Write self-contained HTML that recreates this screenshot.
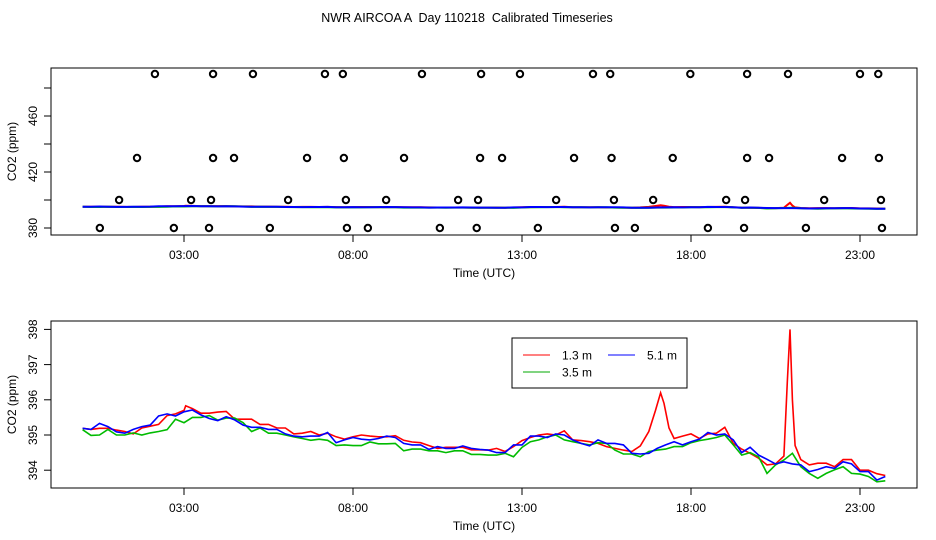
<!DOCTYPE html>
<html><head><meta charset="utf-8"><style>
body{margin:0;background:#fff}
svg{display:block;font-family:"Liberation Sans",sans-serif}
text{white-space:pre}
</style></head><body>
<svg id="chart" width="936" height="540">
</svg>
<script>
// ---- data ----
const xTickHours=[3,8,13,18,23];
const xTickLabels=["03:00","08:00","13:00","18:00","23:00"];
const topYTicks=[380,400,420,440,460,480];
const topYLabels=[380,420,460];
const botYTicks=[394,395,396,397,398];
const calLevels=[380,400,430,490];
const cal380=[0.51,2.70,3.74,5.54,7.82,8.44,10.57,11.66,13.47,15.75,16.34,18.50,19.57,21.40,23.65];
const cal400=[1.08,3.21,3.80,6.08,7.79,8.98,11.11,11.70,14.01,15.72,16.88,19.04,19.60,21.94,23.62];
const cal430=[1.61,3.86,4.48,6.64,7.73,9.51,11.76,12.41,14.54,15.65,17.46,19.66,20.31,22.47,23.56];
const cal490=[2.14,3.86,5.04,7.17,7.70,10.04,11.79,12.94,15.10,15.61,17.98,19.66,20.87,23.00,23.54];
const blueVals=[395.19,395.16,395.33,395.24,395.09,395.05,395.16,395.24,395.28,395.54,395.6,395.54,395.66,395.71,395.57,395.47,395.41,395.52,395.43,395.28,395.22,395.22,395.16,395.16,395.03,394.97,394.95,394.97,394.97,395.07,394.78,394.86,394.93,394.88,394.86,394.9,394.97,394.93,394.76,394.72,394.72,394.59,394.67,394.62,394.62,394.69,394.62,394.59,394.57,394.5,394.5,394.72,394.72,394.97,394.97,394.93,395.03,395.0,394.86,394.76,394.69,394.86,394.76,394.76,394.72,394.48,394.46,394.48,394.62,394.72,394.81,394.72,394.81,394.88,395.07,395.0,395.03,394.86,394.5,394.65,394.43,394.31,394.18,394.24,394.18,394.15,393.96,394.02,394.1,394.05,394.24,394.18,393.96,393.96,393.72,393.82];
const greenVals=[395.15,394.99,395.0,395.16,395.0,395.0,395.06,395.0,395.06,395.1,395.15,395.45,395.35,395.5,395.5,395.55,395.42,395.48,395.48,395.35,395.1,395.2,395.05,395.05,395.0,394.95,394.9,394.85,394.88,394.85,394.7,394.72,394.7,394.7,394.8,394.75,394.75,394.76,394.55,394.6,394.6,394.55,394.55,394.5,394.55,394.55,394.45,394.45,394.43,394.43,394.48,394.38,394.65,394.81,394.86,394.95,395.0,394.86,394.81,394.76,394.72,394.78,394.76,394.57,394.46,394.46,394.38,394.53,394.57,394.6,394.67,394.67,394.78,394.84,394.88,394.93,395.0,394.72,394.43,394.5,394.38,393.91,394.15,394.29,394.48,394.1,393.91,393.77,393.91,394.01,394.1,393.91,393.89,393.82,393.67,393.7];
const redTimes=[0,0.25,0.5,0.75,1,1.25,1.5,1.75,2,2.25,2.5,2.75,3,3.05,3.25,3.5,3.75,4,4.25,4.5,4.75,5,5.25,5.5,5.75,6,6.25,6.5,6.75,7,7.25,7.5,7.75,8,8.25,8.5,8.75,9,9.25,9.5,9.75,10,10.25,10.5,10.75,11,11.25,11.5,11.75,12,12.25,12.5,12.75,13,13.25,13.5,13.75,14,14.25,14.5,14.75,15,15.25,15.5,15.75,16,16.25,16.5,16.75,16.95,17.1,17.2,17.35,17.5,17.75,18,18.25,18.5,18.75,19,19.25,19.5,19.75,20,20.25,20.5,20.75,20.85,20.93,21,21.08,21.25,21.5,21.75,22,22.25,22.5,22.75,23,23.25,23.5,23.75];
const redVals=[395.19,395.16,395.19,395.19,395.14,395.1,395.03,395.2,395.25,395.3,395.55,395.6,395.7,395.83,395.75,395.62,395.62,395.65,395.67,395.45,395.45,395.45,395.3,395.3,395.2,395.2,395.03,395.05,395.1,395.0,395.05,394.95,394.88,394.95,395.0,394.97,394.95,394.95,394.98,394.85,394.8,394.78,394.7,394.62,394.65,394.65,394.65,394.58,394.58,394.57,394.62,394.53,394.67,394.84,394.93,395.0,395.03,395.0,395.12,394.86,394.84,394.81,394.76,394.67,394.62,394.57,394.53,394.69,395.1,395.7,396.2,395.9,395.2,394.9,394.97,395.03,394.9,395.03,395.05,395.22,394.76,394.6,394.48,394.34,394.15,394.18,394.4,396.5,398.0,396.0,394.7,394.3,394.15,394.2,394.2,394.1,394.3,394.3,394.0,394.0,393.9,393.85];

// ---- scales ----
const X=h=>82.6+33.8*h;
const yTop=v=>228-(v-380)*1.4;
const yBot=v=>435-(v-395)*35.2;
const NS="http://www.w3.org/2000/svg";
const svg=document.getElementById('chart');
function mk(tag,attrs,parent){const e=document.createElementNS(NS,tag);for(const k in attrs)e.setAttribute(k,attrs[k]);(parent||svg).appendChild(e);return e;}
function txt(s,x,y,size,rot,anchor){const t=mk('text',{x:x,y:y,'font-size':size,'text-anchor':anchor||'middle',fill:'#000'});if(rot)t.setAttribute('transform',`rotate(-90 ${x} ${y})`);t.textContent=s;return t;}

const title=txt("NWR AIRCOA A  Day 110218  Calibrated Timeseries",467,22,12.5);



function panel(top,bottom,name,yfn,yTicks,yLabels){
  const g=mk('g',{});
  
  
  const box=mk('rect',{x:51,y:top,width:866,height:bottom-top,fill:'none',stroke:'#000','stroke-width':1},g);
  
  
  xTickHours.forEach((h,i)=>{
    const l=mk('line',{x1:X(h),x2:X(h),y1:bottom,y2:bottom+7,stroke:'#000'},g);
    
    
    const t=txt(xTickLabels[i],X(h),bottom+24,12,false);
    g.appendChild(t);
    
    
  });
  yTicks.forEach(v=>{
    const l=mk('line',{x1:44,x2:51,y1:yfn(v),y2:yfn(v),stroke:'#000'},g);
    
    
  });
  yLabels.forEach(v=>{
    const t=txt(String(v),37,yfn(v),12,true);
    g.appendChild(t);
    
    
  });
  const xl=txt("Time (UTC)",484,bottom+42,12);
  g.appendChild(xl);
  
  
  const yl=txt("CO2 (ppm)",16,(top+bottom)/2,12,true);
  g.appendChild(yl);
  
  
  return g;
}
function series(g,times,vals,yfn,color,name,width){
  const d=vals.map((v,i)=>(i?'L':'M')+X(times[i]).toFixed(1)+','+yfn(v).toFixed(1)).join('');
  const p=mk('path',{d:d,fill:'none',stroke:color,'stroke-width':width},g);
  
  
}
const gridTimes=blueVals.map((_,i)=>i*0.25);

const gTop=panel(68,235,'top-panel',yTop,topYTicks,topYLabels);
series(gTop,redTimes,redVals,yTop,'#ff0000','series-1-3m-top',2);
series(gTop,gridTimes,greenVals,yTop,'#00cc00','series-3-5m-top',2);
series(gTop,gridTimes,blueVals,yTop,'#0000ff','series-5-1m-top',2);
const calSets=[cal380,cal400,cal430,cal490];
calSets.forEach((arr,k)=>{
  arr.forEach(h=>{
    const c=mk('circle',{cx:X(h),cy:yTop(calLevels[k]),r:3.2,fill:'none',stroke:'#000','stroke-width':2},gTop);
    
    
  });
});

const gBot=panel(321,488,'bottom-panel',yBot,botYTicks,botYTicks);
series(gBot,redTimes,redVals,yBot,'#ff0000','series-1-3m',1.6);
series(gBot,gridTimes,greenVals,yBot,'#00bb00','series-3-5m',1.6);
series(gBot,gridTimes,blueVals,yBot,'#0000ff','series-5-1m',1.6);

// legend
const lg=mk('g',{},gBot);


mk('rect',{x:512,y:338,width:175,height:50,fill:'#fff',stroke:'#000'},lg);
const items=[["1.3 m",'#ff0000',523,355],["5.1 m",'#0000ff',608,355],["3.5 m",'#00aa00',523,372]];
items.forEach(it=>{
  const e=mk('g',{},lg);
  
  
  mk('line',{x1:it[2],x2:it[2]+27,y1:it[3],y2:it[3],stroke:it[1],'stroke-width':1},e);
  const t=txt(it[0],it[2]+39,it[3]+4.5,12,false,'start');
  e.appendChild(t);
});
</script>
</body></html>
